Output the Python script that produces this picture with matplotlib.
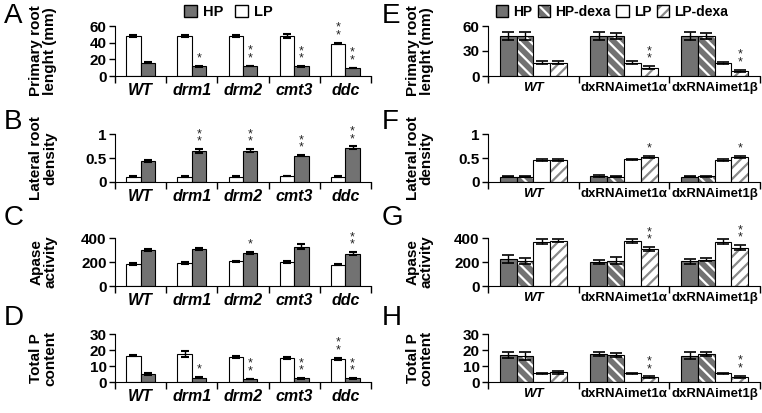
import numpy as np
import matplotlib
matplotlib.use("Agg")
import matplotlib.pyplot as plt
from matplotlib.patches import Patch

# --- data: left column (mutants), LP then HP ---
mutants = ["WT", "drm1", "drm2", "cmt3", "ddc"]

root_lp = [48, 48, 48, 48, 39]
root_lp_err = [1, 1, 1, 2.5, 1]
root_hp = [16, 11.5, 12, 11.5, 9.5]
root_hp_err = [0.3, 0.5, 0.5, 0.5, 0.3]
root_stars_lp = ["", "", "", "", "**"]
root_stars_hp = ["", "*", "**", "**", "**"]

lat_lp = [0.11, 0.11, 0.11, 0.13, 0.11]
lat_lp_err = [0.005, 0.005, 0.005, 0.005, 0.005]
lat_hp = [0.44, 0.65, 0.65, 0.55, 0.71]
lat_hp_err = [0.02, 0.04, 0.03, 0.01, 0.03]
lat_stars_lp = ["", "", "", "", ""]
lat_stars_hp = ["", "**", "**", "**", "**"]

apase_lp = [185, 190, 205, 200, 178]
apase_lp_err = [6, 6, 6, 6, 5]
apase_hp = [300, 308, 278, 328, 270]
apase_hp_err = [8, 10, 8, 20, 12]
apase_stars_lp = ["", "", "", "", ""]
apase_stars_hp = ["", "", "*", "", "**"]

pc_lp = [16.5, 17.5, 15.5, 15, 14.5]
pc_lp_err = [0.5, 2, 0.5, 0.5, 0.6]
pc_hp = [5, 2.8, 1.8, 2.2, 2.2]
pc_hp_err = [0.5, 0.2, 0.2, 0.3, 0.3]
pc_stars_lp = ["", "", "", "", "**"]
pc_stars_hp = ["", "*", "**", "**", "**"]

# --- data: right column (RNAi lines), HP, HP-dexa, LP, LP-dexa ---
lines = ["WT", "dxRNAimet1\u03b1", "dxRNAimet1\u03b2"]
treatments = ["HP", "HP-dexa", "LP", "LP-dexa"]

root2 = [[48, 48, 48], [48, 48, 48], [16, 16, 16], [16, 10, 6]]
root2_err = [[5, 5, 5], [5, 4, 4], [1.5, 1.5, 1], [1.5, 2, 1.5]]
root2_stars = [["", "", ""], ["", "", ""], ["", "", ""], ["", "**", "**"]]

lat2 = [[0.11, 0.13, 0.11], [0.11, 0.11, 0.12], [0.45, 0.47, 0.46], [0.46, 0.52, 0.52]]
lat2_err = [[0.01, 0.02, 0.01], [0.01, 0.01, 0.01], [0.02, 0.01, 0.02], [0.02, 0.02, 0.02]]
lat2_stars = [["", "", ""], ["", "", ""], ["", "", ""], ["", "*", "*"]]

apase2 = [[225, 200, 205], [205, 210, 220], [370, 375, 370], [378, 310, 320]]
apase2_err = [[35, 20, 20], [25, 30, 15], [20, 20, 20], [10, 15, 20]]
apase2_stars = [["", "", ""], ["", "", ""], ["", "", ""], ["", "**", "**"]]

pc2 = [[17, 17.5, 16.5], [16.5, 17, 17.5], [5.5, 5.5, 5.5], [6, 3, 3.2]]
pc2_err = [[2, 1.5, 2], [2.5, 1.2, 1.5], [0.3, 0.3, 0.3], [0.7, 0.5, 0.7]]
pc2_stars = [["", "", ""], ["", "", ""], ["", "", ""], ["", "**", "**"]]

GRAY = "#727272"
HATCHGRAY = "#8a8a8a"

plt.rcParams["font.family"] = ["Liberation Sans", "DejaVu Sans"]
plt.rcParams["hatch.linewidth"] = 1.6

fig = plt.figure(figsize=(7.62, 4.13), dpi=100)

H = 413.0
W = 762.0


def make_ax(x0, x1, top, bottom):
    return fig.add_axes([x0 / W, 1 - bottom / H, (x1 - x0) / W, (bottom - top) / H])


def style_ax(ax, ylim, yticks, ylabel, cats, ncat, italic_all, labx, labsize, labpad):
    ax.set_xlim(-0.5, ncat - 0.5)
    ax.set_ylim(*ylim)
    ax.spines["top"].set_visible(False)
    ax.spines["right"].set_visible(False)
    ax.set_yticks(yticks)
    ax.set_yticklabels([("%g" % t) for t in yticks], fontsize=11, fontweight="bold")
    ax.tick_params(axis="y", length=4, width=1, pad=2)
    ax.set_xticks(np.arange(ncat + 1) - 0.5)
    ax.set_xticklabels([])
    ax.tick_params(axis="x", which="major", length=5, width=1, direction="out")
    ax.set_xticks(np.arange(ncat), minor=True)
    ax.set_xticklabels(cats, minor=True, fontweight="bold", fontsize=labsize)
    for i, t in enumerate(ax.get_xticklabels(minor=True)):
        if italic_all or i == 0:
            t.set_fontstyle("italic")
    ax.tick_params(axis="x", which="minor", length=0, pad=labpad)
    ax.set_ylabel(ylabel, fontsize=11, fontweight="bold", linespacing=1.0)
    ax.yaxis.set_label_coords(labx, 0.5)


def star(ax, x, y, s, ylim):
    if not s:
        return
    off = (ylim[1] - ylim[0]) * 0.03
    txt = "\n".join(list(s))
    ax.text(x, y + off, txt, ha="center", va="bottom", fontsize=9,
            linespacing=0.5, color="#222222")


def left_panel(ax, lp, lp_err, hp, hp_err, st_lp, st_hp, ylim, yticks, ylabel):
    x = np.arange(len(mutants))
    w = 0.28
    ax.bar(x - w / 2, lp, w, color="white", edgecolor="black", linewidth=0.8)
    ax.bar(x + w / 2, hp, w, color=GRAY, edgecolor="black", linewidth=0.8)
    ax.errorbar(x - w / 2, lp, yerr=lp_err, fmt="none", ecolor="black", capsize=3, elinewidth=1, capthick=1.5)
    ax.errorbar(x + w / 2, hp, yerr=hp_err, fmt="none", ecolor="black", capsize=3, elinewidth=1, capthick=1.5)
    for i in range(len(mutants)):
        star(ax, x[i] - w / 2, lp[i] + lp_err[i], st_lp[i], ylim)
        star(ax, x[i] + w / 2, hp[i] + hp_err[i], st_hp[i], ylim)
    style_ax(ax, ylim, yticks, ylabel, mutants, len(mutants), True, -0.225, 11.5, 5)


def right_panel(ax, vals, errs, stars, ylim, yticks, ylabel):
    x = np.arange(len(lines))
    w = 0.185
    offs = [-1.5 * w, -0.5 * w, 0.5 * w, 1.5 * w]
    for k in range(4):
        pos = x + offs[k]
        if k == 0:
            ax.bar(pos, vals[k], w, color=GRAY, edgecolor="black", linewidth=0.8)
        elif k == 1:
            ax.bar(pos, vals[k], w, color=GRAY, edgecolor="white", hatch="\\\\\\", linewidth=0)
            ax.bar(pos, vals[k], w, fill=False, edgecolor="black", linewidth=0.8)
        elif k == 2:
            ax.bar(pos, vals[k], w, color="white", edgecolor="black", linewidth=0.8)
        else:
            ax.bar(pos, vals[k], w, color="white", edgecolor=HATCHGRAY, hatch="///", linewidth=0)
            ax.bar(pos, vals[k], w, fill=False, edgecolor="black", linewidth=0.8)
        ax.errorbar(pos, vals[k], yerr=errs[k], fmt="none", ecolor="black", capsize=4, elinewidth=1, capthick=1.2)
        for i in range(len(lines)):
            star(ax, pos[i], vals[k][i] + errs[k][i], stars[k][i], ylim)
    style_ax(ax, ylim, yticks, ylabel, lines, len(lines), False, -0.2, 9.5, 4)


lx0, lx1 = 115, 371
rx0, rx1 = 488, 760
rows = [(26, 76), (134, 182), (238, 286), (334, 382)]

axA = make_ax(lx0, lx1, *rows[0])
left_panel(axA, root_lp, root_lp_err, root_hp, root_hp_err, root_stars_lp, root_stars_hp,
           (0, 60), [0, 20, 40, 60], "Primary root\nlenght (mm)")
axB = make_ax(lx0, lx1, *rows[1])
left_panel(axB, lat_lp, lat_lp_err, lat_hp, lat_hp_err, lat_stars_lp, lat_stars_hp,
           (0, 1), [0, 0.5, 1], "Lateral root\ndensity")
axC = make_ax(lx0, lx1, *rows[2])
left_panel(axC, apase_lp, apase_lp_err, apase_hp, apase_hp_err, apase_stars_lp, apase_stars_hp,
           (0, 400), [0, 200, 400], "Apase\nactivity")
axD = make_ax(lx0, lx1, *rows[3])
left_panel(axD, pc_lp, pc_lp_err, pc_hp, pc_hp_err, pc_stars_lp, pc_stars_hp,
           (0, 30), [0, 10, 20, 30], "Total P\ncontent")

axE = make_ax(rx0, rx1, *rows[0])
right_panel(axE, root2, root2_err, root2_stars, (0, 60), [0, 30, 60], "Primary root\nlenght (mm)")
axF = make_ax(rx0, rx1, *rows[1])
right_panel(axF, lat2, lat2_err, lat2_stars, (0, 1), [0, 0.5, 1], "Lateral root\ndensity")
axG = make_ax(rx0, rx1, *rows[2])
right_panel(axG, apase2, apase2_err, apase2_stars, (0, 400), [0, 200, 400], "Apase\nactivity")
axH = make_ax(rx0, rx1, *rows[3])
right_panel(axH, pc2, pc2_err, pc2_stars, (0, 30), [0, 10, 20, 30], "Total P\ncontent")

# panel letters
for letter, (px, py) in zip("ABCDEFGH", [(4, 16), (4, 122), (4, 218), (4, 318),
                                          (382, 16), (382, 122), (382, 218), (382, 318)]):
    fig.text(px / W, 1 - py / H, letter, fontsize=20, va="center", ha="left")

# legends
hp_patch = Patch(facecolor=GRAY, edgecolor="black", label="HP")
lp_patch = Patch(facecolor="white", edgecolor="black", label="LP")
fig.legend(handles=[hp_patch, lp_patch], loc="center", bbox_to_anchor=(228 / W, 1 - 12 / H),
           ncol=2, frameon=False, handlelength=0.9, handleheight=0.9, handletextpad=0.4,
           columnspacing=0.8, prop={"weight": "bold", "size": 10.5})

hpd_fill = Patch(facecolor=GRAY, edgecolor="white", hatch="\\\\\\", linewidth=0)
lpd_fill = Patch(facecolor="white", edgecolor=HATCHGRAY, hatch="///", linewidth=0)
frame = Patch(fill=False, edgecolor="black")
fig.legend(handles=[hp_patch, (hpd_fill, frame), lp_patch, (lpd_fill, frame)],
           labels=treatments, loc="center",
           bbox_to_anchor=(612 / W, 1 - 12 / H), ncol=4, frameon=False,
           handlelength=0.9, handleheight=0.9, handletextpad=0.35, columnspacing=0.4,
           prop={"weight": "bold", "size": 10})

fig.savefig("out.png", dpi=100)
